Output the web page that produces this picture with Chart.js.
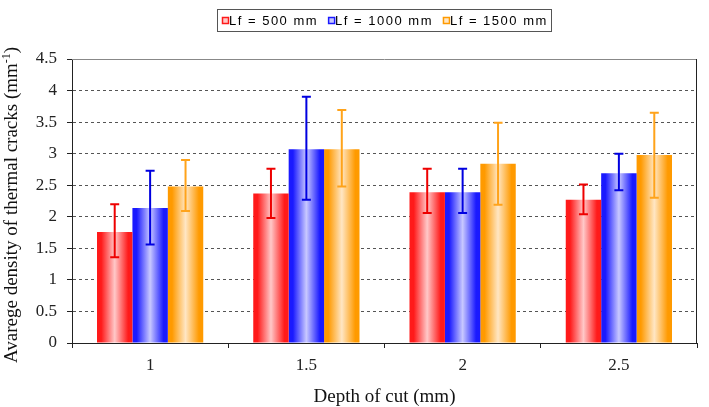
<!DOCTYPE html>
<html>
<head>
<meta charset="utf-8">
<script src="https://cdn.jsdelivr.net/npm/chart.js@4.4.1/dist/chart.umd.min.js"></script>
<style>
  html, body { margin: 0; padding: 0; background: #fff; }
</style>
</head>
<body>
<canvas id="crackChart" width="709" height="407"></canvas>
<script>
// categories and series
const depths = ["1", "1.5", "2", "2.5"];
const seriesLabels = ["Lf = 500 mm", "Lf = 1000 mm", "Lf = 1500 mm"];

const lf500 = [1.76, 2.37, 2.39, 2.27];
const lf1000 = [2.14, 3.07, 2.39, 2.69];
const lf1500 = [2.48, 3.07, 2.84, 2.98];

// error bar ends (low / high)
const lf500Low = [1.36, 1.98, 2.06, 2.04];
const lf500High = [2.20, 2.76, 2.76, 2.51];
const lf1000Low = [1.56, 2.27, 2.06, 2.42];
const lf1000High = [2.73, 3.90, 2.76, 3.00];
const lf1500Low = [2.09, 2.48, 2.19, 2.30];
const lf1500High = [2.90, 3.69, 3.49, 3.65];

const yTicks = [0, 0.5, 1, 1.5, 2, 2.5, 3, 3.5, 4, 4.5];

const yTitle = "Avarege density of thermal cracks (mm";
const yTitleSup = "-1";
const xTitle = "Depth of cut (mm)";

const strongColors = ["#ff1a1a", "#1a1aff", "#ff9a00"];
const lightColors = ["#ffc8c8", "#c8c8ff", "#ffe6c4"];
const errColors = ["#ee0000", "#0000e0", "#ffa31a"];
const errLow = [lf500Low, lf1000Low, lf1500Low];
const errHigh = [lf500High, lf1000High, lf1500High];

const serif = "'Liberation Serif', 'Times New Roman', serif";
const sans = "'Liberation Sans', Arial, sans-serif";

// horizontal shading on every bar
const barShading = {
  id: "barShading",
  beforeDatasetsDraw(chart) {
    const ctx = chart.ctx;
    chart.data.datasets.forEach((ds, di) => {
      chart.getDatasetMeta(di).data.forEach(bar => {
        const x0 = bar.x - bar.width / 2;
        const x1 = bar.x + bar.width / 2;
        const g = ctx.createLinearGradient(x0, 0, x1, 0);
        g.addColorStop(0, strongColors[di]);
        g.addColorStop(0.12, strongColors[di]);
        g.addColorStop(0.5, lightColors[di]);
        g.addColorStop(0.88, strongColors[di]);
        g.addColorStop(1, strongColors[di]);
        bar.options.backgroundColor = g;
      });
    });
  }
};

const errorBars = {
  id: "errorBars",
  afterDatasetsDraw(chart) {
    const ctx = chart.ctx;
    const y = chart.scales.y;
    ctx.save();
    ctx.lineWidth = 2;
    chart.data.datasets.forEach((ds, di) => {
      ctx.strokeStyle = errColors[di];
      chart.getDatasetMeta(di).data.forEach((bar, i) => {
        const top = y.getPixelForValue(errHigh[di][i]);
        const bot = y.getPixelForValue(errLow[di][i]);
        ctx.beginPath();
        ctx.moveTo(bar.x, top);
        ctx.lineTo(bar.x, bot);
        ctx.moveTo(bar.x - 4.5, top);
        ctx.lineTo(bar.x + 4.5, top);
        ctx.moveTo(bar.x - 4.5, bot);
        ctx.lineTo(bar.x + 4.5, bot);
        ctx.stroke();
      });
    });
    ctx.restore();
  }
};

// frame lines, y title with superscript, boxed legend
const frameAndLegend = {
  id: "frameAndLegend",
  afterDraw(chart) {
    const ctx = chart.ctx;
    const a = chart.chartArea;
    ctx.save();
    ctx.lineWidth = 1;
    ctx.strokeStyle = "#888";
    ctx.beginPath();
    ctx.moveTo(a.left, a.top + 0.5);
    ctx.lineTo(a.right, a.top + 0.5);
    ctx.stroke();
    ctx.strokeStyle = "#222";
    ctx.beginPath();
    ctx.moveTo(a.right - 0.5, a.top);
    ctx.lineTo(a.right - 0.5, a.bottom);
    ctx.stroke();

    // y title
    ctx.save();
    ctx.translate(17, 363);
    ctx.rotate(-Math.PI / 2);
    ctx.fillStyle = "#111";
    ctx.textAlign = "left";
    ctx.textBaseline = "alphabetic";
    ctx.font = "19px " + serif;
    ctx.fillText(yTitle, 0, 0);
    let w = ctx.measureText(yTitle).width;
    ctx.font = "12px " + serif;
    ctx.fillText(yTitleSup, w, -7);
    w += ctx.measureText(yTitleSup).width;
    ctx.font = "19px " + serif;
    ctx.fillText(")", w, 0);
    ctx.restore();

    // legend
    ctx.strokeStyle = "#555";
    ctx.lineWidth = 1;
    ctx.strokeRect(217.5, 9.5, 334, 22);
    ctx.font = "13px " + sans;
    ctx.letterSpacing = "1.5px";
    ctx.textBaseline = "middle";
    let x = 222;
    chart.data.datasets.forEach((ds, di) => {
      ctx.fillStyle = lightColors[di];
      ctx.fillRect(x, 17, 7, 7);
      ctx.strokeStyle = strongColors[di];
      ctx.lineWidth = 1.5;
      ctx.strokeRect(x + 0.5, 17.5, 6, 6);
      ctx.fillStyle = "#000";
      ctx.fillText(ds.label, x + 7, 21);
      x += 7 + ctx.measureText(ds.label).width + 10;
    });
    ctx.restore();
  }
};

const values = [lf500, lf1000, lf1500];

new Chart(document.getElementById("crackChart").getContext("2d"), {
  type: "bar",
  data: {
    labels: depths,
    datasets: values.map((v, di) => ({
      label: seriesLabels[di],
      data: v,
      backgroundColor: () => strongColors[di],
      borderWidth: 0,
      categoryPercentage: 0.68,
      barPercentage: 1.0
    }))
  },
  options: {
    responsive: false,
    animation: false,
    layout: { padding: { top: 59, right: 12, left: 0, bottom: 0 } },
    plugins: {
      legend: { display: false },
      tooltip: { enabled: false }
    },
    scales: {
      x: {
        afterFit: s => { s.height = 64; },
        grid: { drawOnChartArea: false, tickLength: 5, tickColor: "#222", offset: true },
        border: { color: "#222", width: 1 },
        ticks: { color: "#222", padding: 7, font: { family: serif, size: 17 } },
        title: { display: true, text: xTitle, color: "#111", padding: 0, font: { family: serif, size: 19, lineHeight: 1 } }
      },
      y: {
        min: 0,
        max: 4.5,
        afterFit: s => { s.width = 72; },
        afterBuildTicks: s => { s.ticks = yTicks.map(v => ({ value: v })); },
        grid: {
          color: ctx => ctx.tick && ctx.tick.value === 4.5 ? "rgba(0,0,0,0)" : "#555",
          lineWidth: 1,
          tickLength: 5,
          tickColor: "#222",
          tickBorderDash: []
        },
        border: { color: "#222", width: 1, dash: [3, 3] },
        ticks: { color: "#222", padding: 10, font: { family: serif, size: 17 }, callback: v => String(v) },
        title: { display: false }
      }
    }
  },
  plugins: [barShading, errorBars, frameAndLegend]
});
</script>
</body>
</html>
